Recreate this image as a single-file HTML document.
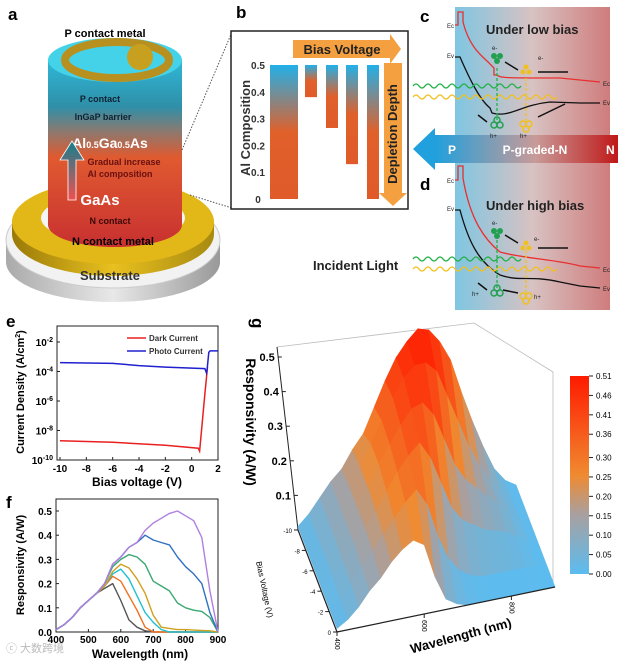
<!DOCTYPE html>
<html><head><meta charset="utf-8"><style>
html,body{margin:0;padding:0;background:#fff}
svg{display:block;font-family:"Liberation Sans",sans-serif}
.b{font-weight:bold}
</style></head><body>
<svg id="fig" width="620" height="662" viewBox="0 0 620 662" xmlns="http://www.w3.org/2000/svg">
<defs>
<linearGradient id="cyl" x1="0" y1="0" x2="0" y2="1">
<stop offset="0" stop-color="#2fb8d8"/><stop offset="0.25" stop-color="#2f8fa8"/><stop offset="0.38" stop-color="#8a7a70"/><stop offset="0.52" stop-color="#e05a30"/><stop offset="1" stop-color="#c83030"/></linearGradient>
<linearGradient id="gold" x1="0" y1="0" x2="1" y2="0"><stop offset="0" stop-color="#9a7a08"/><stop offset="0.5" stop-color="#e8c020"/><stop offset="1" stop-color="#a88a10"/></linearGradient>
<linearGradient id="sub" x1="0" y1="0" x2="1" y2="0"><stop offset="0" stop-color="#aaa"/><stop offset="0.5" stop-color="#e8e8e8"/><stop offset="1" stop-color="#999"/></linearGradient>
<linearGradient id="bar" x1="0" y1="0" x2="0" y2="1"><stop offset="0" stop-color="#22b0e8"/><stop offset="0.5" stop-color="#e0602a"/><stop offset="1" stop-color="#e05a2a"/></linearGradient>
<linearGradient id="band" x1="0" y1="0" x2="1" y2="0"><stop offset="0" stop-color="#7fc6e2"/><stop offset="0.5" stop-color="#d8c2c2"/><stop offset="1" stop-color="#cf7c7c"/></linearGradient>
<linearGradient id="pn" x1="0" y1="0" x2="1" y2="0"><stop offset="0" stop-color="#20a0dc"/><stop offset="0.55" stop-color="#c89a98"/><stop offset="1" stop-color="#c01818"/></linearGradient>
<linearGradient id="arr" x1="0" y1="1" x2="0" y2="0"><stop offset="0" stop-color="#f05050"/><stop offset="1" stop-color="#108090"/></linearGradient>
<linearGradient id="cbar" x1="0" y1="1" x2="0" y2="0"><stop offset="0" stop-color="#5bbcf0"/><stop offset="0.3" stop-color="#a8a0a0"/><stop offset="0.5" stop-color="#f08a30"/><stop offset="1" stop-color="#ff1a00"/></linearGradient>
</defs>

<!-- Panel a -->
<g>
<text x="8" y="20" class="b" font-size="17">a</text>
<path d="M6 240 L6 262 A107 40 0 0 0 220 262 L220 240 Z" fill="url(#sub)"/>
<ellipse cx="113" cy="240" rx="107" ry="48" fill="#f2f2f2" stroke="#ccc"/>
<path d="M12 222 L12 234 A101 42 0 0 0 214 234 L214 222 Z" fill="url(#gold)"/>
<ellipse cx="113" cy="222" rx="101" ry="42" fill="#e2b818"/>
<ellipse cx="113" cy="218" rx="72" ry="25" fill="#f4f4f4"/>
<path d="M48 60 L48 225 A67 22 0 0 0 182 225 L182 60 Z" fill="url(#cyl)"/>
<ellipse cx="115" cy="60" rx="67" ry="22" fill="#44d2e8"/>
<ellipse cx="117" cy="60" rx="52" ry="18" fill="none" stroke="#b89020" stroke-width="8"/>
<circle cx="140" cy="57" r="13" fill="#c8a020"/>
<text x="105" y="37" text-anchor="middle" class="b" font-size="11">P contact metal</text>
<text x="100" y="102" text-anchor="middle" class="b" font-size="9" fill="#123">P contact</text>
<text x="103" y="120" text-anchor="middle" class="b" font-size="9" fill="#123">InGaP barrier</text>
<text x="110" y="148" text-anchor="middle" class="b" font-size="14" fill="#fff">Al<tspan font-size="9">0.5</tspan>Ga<tspan font-size="9">0.5</tspan>As</text>
<path d="M68 200 L68 160 L60 160 L72 141 L84 160 L76 160 L76 200 Z" fill="url(#arr)" stroke="#fff" stroke-width="0.8"/>
<text x="124" y="165" text-anchor="middle" class="b" font-size="9" fill="#6a1010">Gradual increase</text>
<text x="120" y="177" text-anchor="middle" class="b" font-size="9" fill="#6a1010">Al composition</text>
<text x="100" y="205" text-anchor="middle" class="b" font-size="15" fill="#fff">GaAs</text>
<text x="110" y="224" text-anchor="middle" class="b" font-size="9" fill="#3a0a0a">N contact</text>
<text x="113" y="245" text-anchor="middle" class="b" font-size="11">N contact metal</text>
<text x="110" y="280" text-anchor="middle" class="b" font-size="13" fill="#333">Substrate</text>
<line x1="182" y1="150" x2="232" y2="32" stroke="#555" stroke-dasharray="1.5 1.5"/>
<line x1="190" y1="195" x2="232" y2="208" stroke="#555" stroke-dasharray="1.5 1.5"/>
</g>

<!-- Panel b -->
<g>
<text x="236" y="18" class="b" font-size="17">b</text>
<rect x="231" y="31" width="177" height="178" fill="#fff" stroke="#222" stroke-width="1.5"/>
<path d="M293 40 L390 40 L390 34 L401 49 L390 64 L390 58 L293 58 Z" fill="#f4a040"/>
<text x="342" y="54" text-anchor="middle" class="b" font-size="13" fill="#222">Bias Voltage</text>
<path d="M384 63 L402 63 L402 193 L407 193 L393 206 L379 193 L384 193 Z" fill="#f4a040"/>
<text transform="translate(397,134) rotate(-90)" text-anchor="middle" class="b" font-size="13" fill="#222">Depletion Depth</text>
<text transform="translate(250,128) rotate(-90)" text-anchor="middle" class="b" font-size="13" fill="#333">Al Composition</text>
<g id="bbars"></g>
</g>

<!-- Panels c and d -->
<g>
<rect x="455" y="7" width="155" height="303" fill="url(#band)"/>
<text x="420" y="22" class="b" font-size="17">c</text>
<text x="420" y="190" class="b" font-size="17">d</text>
<path d="M435 135 L448 135 L448 163 L435 163 L435 170 L413 149 L435 128 Z" fill="#20a0dc"/>
<path d="M435 135 L618 135 L618 163 L435 163 Z" fill="url(#pn)"/>
<text x="448" y="154" class="b" font-size="12" fill="#fff">P</text>
<text x="535" y="154" text-anchor="middle" class="b" font-size="12" fill="#fff">P-graded-N</text>
<text x="606" y="154" class="b" font-size="12" fill="#fff">N</text>
<text x="486" y="34" class="b" font-size="13" fill="#222">Under low bias</text>
<text x="486" y="210" class="b" font-size="13" fill="#222">Under high bias</text>
<text x="313" y="270" class="b" font-size="13" fill="#222">Incident Light</text>
<g font-size="6" fill="#222">
<text x="447" y="28">Ec</text><text x="447" y="58">Ev</text><text x="603" y="86">Ec</text><text x="603" y="105">Ev</text>
<text x="447" y="183">Ec</text><text x="447" y="211">Ev</text><text x="603" y="272">Ec</text><text x="603" y="291">Ev</text>
</g>
<g fill="none" stroke-width="1.3">
<path d="M455 25 L458 25 L458 12 L463 12 L463 22 C470 50 485 58 490 64 L494 68 L494 75 L497 75 C500 78 505 78 560 78 L580 80 L600 82" stroke="#e83030"/>
<path d="M455 57 L460 57 C470 80 480 100 490 108 L492 113 C510 118 520 105 550 102 L580 103 L600 103" stroke="#111"/>
<path d="M455 180 L458 180 L458 166 L463 166 L463 178 C470 220 485 240 500 252 C520 258 560 260 580 266 L600 268" stroke="#e83030"/>
<path d="M455 210 L460 210 C468 240 478 262 500 275 C520 282 530 275 560 282 L580 286 L600 288" stroke="#111"/>
</g>
<g fill="none" stroke-width="1.3">
<path d="M413 86 q3 -4 6 0 t6 0 t6 0 t6 0 t6 0 t6 0 t6 0 t6 0 t6 0 t6 0 t6 0 t6 0 t6 0 t6 0 t6 0 t6 0 t6 0 t6 0" stroke="#22b048"/>
<path d="M413 97 q3 -4 6 0 t6 0 t6 0 t6 0 t6 0 t6 0 t6 0 t6 0 t6 0 t6 0 t6 0 t6 0 t6 0 t6 0 t6 0 t6 0 t6 0 t6 0 t6 0 t6 0 t6 0 t6 0 t6 0 t6 0" stroke="#f0c020"/>
<path d="M413 259 q3 -4 6 0 t6 0 t6 0 t6 0 t6 0 t6 0 t6 0 t6 0 t6 0 t6 0 t6 0 t6 0 t6 0 t6 0 t6 0 t6 0 t6 0 t6 0" stroke="#22b048"/>
<path d="M413 269 q3 -4 6 0 t6 0 t6 0 t6 0 t6 0 t6 0 t6 0 t6 0 t6 0 t6 0 t6 0 t6 0 t6 0 t6 0 t6 0 t6 0 t6 0 t6 0 t6 0 t6 0 t6 0 t6 0 t6 0 t6 0" stroke="#f0c020"/>
<line x1="497" y1="68" x2="497" y2="120" stroke="#22b048" stroke-dasharray="3 2"/>
<line x1="526" y1="78" x2="526" y2="124" stroke="#f0c020" stroke-dasharray="3 2"/>
<line x1="497" y1="240" x2="497" y2="290" stroke="#22b048" stroke-dasharray="3 2"/>
<line x1="526" y1="250" x2="526" y2="294" stroke="#f0c020" stroke-dasharray="3 2"/>
</g>
<g stroke="#111" stroke-width="1.5">
<line x1="505" y1="62" x2="518" y2="70"/><line x1="538" y1="72" x2="568" y2="72"/><line x1="538" y1="117" x2="565" y2="104"/><line x1="487" y1="122" x2="478" y2="115"/>
<line x1="505" y1="235" x2="518" y2="243"/><line x1="538" y1="248" x2="568" y2="248"/><line x1="518" y1="293" x2="503" y2="290"/><line x1="487" y1="290" x2="478" y2="283"/>
</g>
<g>
<circle cx="494" cy="56" r="3" fill="#22a050"/><circle cx="500" cy="56" r="3" fill="#22a050"/><circle cx="497" cy="61" r="3" fill="#22a050"/>
<circle cx="523" cy="72" r="2.5" fill="#f0c020"/><circle cx="529" cy="72" r="2.5" fill="#f0c020"/><circle cx="526" cy="67" r="2.5" fill="#f0c020"/>
<circle cx="494" cy="125" r="3" fill="none" stroke="#22a050" stroke-width="1.5"/><circle cx="500" cy="125" r="3" fill="none" stroke="#22a050" stroke-width="1.5"/><circle cx="497" cy="120" r="3" fill="none" stroke="#22a050" stroke-width="1.5"/>
<circle cx="523" cy="124" r="3" fill="none" stroke="#f0c020" stroke-width="1.5"/><circle cx="529" cy="124" r="3" fill="none" stroke="#f0c020" stroke-width="1.5"/><circle cx="526" cy="129" r="3" fill="none" stroke="#f0c020" stroke-width="1.5"/>
<circle cx="494" cy="231" r="3" fill="#22a050"/><circle cx="500" cy="231" r="3" fill="#22a050"/><circle cx="497" cy="236" r="3" fill="#22a050"/>
<circle cx="523" cy="248" r="2.5" fill="#f0c020"/><circle cx="529" cy="248" r="2.5" fill="#f0c020"/><circle cx="526" cy="243" r="2.5" fill="#f0c020"/>
<circle cx="494" cy="293" r="3" fill="none" stroke="#22a050" stroke-width="1.5"/><circle cx="500" cy="293" r="3" fill="none" stroke="#22a050" stroke-width="1.5"/><circle cx="497" cy="288" r="3" fill="none" stroke="#22a050" stroke-width="1.5"/>
<circle cx="523" cy="296" r="3" fill="none" stroke="#f0c020" stroke-width="1.5"/><circle cx="529" cy="296" r="3" fill="none" stroke="#f0c020" stroke-width="1.5"/><circle cx="526" cy="301" r="3" fill="none" stroke="#f0c020" stroke-width="1.5"/>
</g>
<g font-size="6" fill="#222"><text x="492" y="50">e-</text><text x="538" y="60">e-</text><text x="490" y="138">h+</text><text x="520" y="138">h+</text><text x="492" y="225">e-</text><text x="534" y="241">e-</text><text x="472" y="296">h+</text><text x="534" y="299">h+</text></g>
</g>

<!-- Panel e -->
<g>
<text x="6" y="327" class="b" font-size="17">e</text>
<text transform="translate(24,392) rotate(-90)" text-anchor="middle" class="b" font-size="11">Current Density (A/cm<tspan font-size="7" dy="-4">2</tspan><tspan dy="4">)</tspan></text>
<text x="137" y="486" text-anchor="middle" class="b" font-size="12">Bias voltage (V)</text>
<g id="eplot"></g>
</g>

<!-- Panel f -->
<g>
<text x="6" y="508" class="b" font-size="17">f</text>
<text transform="translate(24,565) rotate(-90)" text-anchor="middle" class="b" font-size="11">Responsivity (A/W)</text>
<text x="140" y="658" text-anchor="middle" class="b" font-size="12">Wavelength (nm)</text>
<text x="6" y="652" font-size="11" fill="#bbb">ⓒ 大数跨境</text>
<g id="fplot"></g>
</g>

<!-- Panel g -->
<g>
<text transform="translate(252,318) rotate(90)" class="b" font-size="17">g</text>
<text transform="translate(246,422) rotate(90)" text-anchor="middle" class="b" font-size="14">Responsivity (A/W)</text>
<text transform="translate(262,590) rotate(78)" text-anchor="middle" font-size="8">Bias Voltage (V)</text>
<text transform="translate(462,640) rotate(-15)" text-anchor="middle" class="b" font-size="13">Wavelength (nm)</text>
<g id="gplot"></g>
<rect x="570" y="376" width="19" height="198" fill="url(#cbar)"/>
<g id="cbticks"></g>
</g>
</svg>
<script>
// ---------- Panel b data ----------
const bBarTops = [0.5,0.5,0.5,0.5,0.5];
const bBarBottoms = [0,0.38,0.265,0.13,0];
const bTicks = [0,0.1,0.2,0.3,0.4,0.5];
// ---------- Panel e data ----------
const eDarkV = [-10,-6,-2,0.5,0.6,0.62,0.8,1.0,1.2];
const eDarkLogJ = [-8.7,-8.8,-9.0,-9.2,-9.4,-9.2,-7.5,-5.5,-3.7];
const ePhotoV = [-10,-6,-4,-2,1.0,1.12,1.18,1.3,1.4,2];
const ePhotoLogJ = [-3.4,-3.45,-3.6,-3.7,-3.8,-4.1,-3.8,-2.7,-2.6,-2.6];
const eXTicks = [-10,-8,-6,-4,-2,0,2];
const eYTicks = [-10,-8,-6,-4,-2];
// ---------- Panel f data ----------
const wavelengths = [400,425,450,475,500,525,550,575,600,625,650,675,700,725,750,775,800,825,850,875,900];
const respGray   = [.01,.03,.06,.10,.13,.16,.18,.20,.13,.05,.02,.005,0,0,0,0,0,0,0,0,0];
const respOrange = [.01,.03,.06,.10,.13,.16,.19,.23,.21,.15,.09,.02,0,0,0,0,0,0,0,0,0];
const respCyan   = [.01,.03,.06,.10,.13,.16,.19,.24,.26,.22,.15,.08,.04,.01,0,0,0,0,0,0,0];
const respGold   = [.01,.03,.06,.10,.13,.16,.19,.25,.28,.265,.22,.16,.07,.02,.015,.01,.01,.008,.006,.005,0];
const respGreen  = [.01,.03,.06,.10,.13,.16,.20,.27,.30,.32,.31,.28,.21,.19,.17,.12,.10,.09,.085,.06,0];
const respBlue   = [.01,.03,.06,.10,.13,.16,.20,.28,.31,.35,.37,.40,.38,.37,.36,.31,.27,.24,.20,.08,0];
const respPurple = [.01,.03,.06,.10,.13,.16,.20,.28,.31,.35,.37,.42,.45,.47,.49,.50,.48,.46,.39,.17,0];
const fSeries = [respGray,respOrange,respCyan,respGold,respGreen,respBlue,respPurple];
const fColors = ['#555555','#f07020','#20c0d0','#d0a020','#3aa870','#3070c0','#b080e0'];
const fXTicks = [400,500,600,700,800,900];
const fYTicks = [0,0.1,0.2,0.3,0.4,0.5];
// ---------- Panel g data (surface rows, bias 0 .. -10) ----------
const gBiases = [0,-2,-4,-6,-8,-10];
const gRowB0  = [.01,.03,.06,.10,.13,.17,.20,.22,.20,.10,.03,.01,0,0,0,0,0,0,0,0,0];
const gRowB2  = [.01,.03,.07,.11,.15,.19,.23,.27,.30,.25,.15,.08,.04,.02,.01,.01,.01,.01,.01,.005,0];
const gRowB4  = [.01,.04,.07,.12,.16,.20,.25,.30,.34,.37,.32,.24,.16,.12,.10,.08,.07,.06,.04,.02,0];
const gRowB6  = [.01,.04,.08,.12,.16,.21,.27,.32,.37,.41,.42,.38,.30,.22,.17,.14,.11,.08,.05,.02,0];
const gRowB8  = [.01,.04,.08,.12,.16,.21,.27,.33,.39,.44,.47,.47,.44,.36,.28,.20,.14,.09,.05,.02,0];
const gRowB10 = [.01,.04,.08,.12,.15,.20,.24,.31,.38,.44,.48,.51,.50,.46,.40,.30,.21,.13,.06,.02,0];
const gZTicks = [0.1,0.2,0.3,0.4,0.5];
const gBiasTicks = [0,-2,-4,-6,-8,-10];
const gWaveTicks = [400,600,800];
const cbTicks = [0.00,0.05,0.10,0.15,0.20,0.25,0.30,0.36,0.41,0.46,0.51];

const NS='http://www.w3.org/2000/svg';
function mk(tag, attrs, parent){const e=document.createElementNS(NS,tag);for(const k in attrs)e.setAttribute(k,attrs[k]);parent.appendChild(e);return e;}

// Panel b
const bg=document.getElementById('bbars');
const bX0=[270,305,326,346,367], bW=[28,12,12,12,12];
const by=v=>199-v*268;
for(let i=0;i<bBarTops.length;i++){
  const top=by(bBarTops[i]), bot=by(bBarBottoms[i]);
  const r=mk('rect',{x:bX0[i],y:top,width:bW[i],height:bot-top,fill:'url(#bar)'},bg);
  
  
}
bTicks.forEach(t=>{const tx=mk('text',{x:258,y:by(t)+4,'text-anchor':'middle','font-size':10,'font-weight':'bold',fill:'#333'},bg);tx.textContent=t===0?'0':t.toFixed(1);
  
  });

// Panel e
const eg=document.getElementById('eplot');
const ex=v=>60+(v+10)*13.17, ey=l=>460-(l+10)*14.75;
const ef=mk('rect',{x:57,y:326,width:161,height:134,fill:'none',stroke:'#222','stroke-width':1},eg);


eXTicks.forEach(t=>{mk('line',{x1:ex(t),x2:ex(t),y1:460,y2:457,stroke:'#222'},eg);
  const tx=mk('text',{x:ex(t),y:472,'text-anchor':'middle','font-size':10,'font-weight':'bold'},eg);tx.textContent=t;
  
  });
eYTicks.forEach(t=>{mk('line',{x1:57,x2:60,y1:ey(t),y2:ey(t),stroke:'#222'},eg);
  const tx=mk('text',{x:53,y:ey(t)+4,'text-anchor':'end','font-size':10,'font-weight':'bold'},eg);
  tx.textContent='10';const s=mk('tspan',{'font-size':7,dy:-4},tx);s.textContent=t;
  
  });
const pd=(X,Y)=>X.map((v,i)=>(i?'L':'M')+ex(v).toFixed(1)+' '+ey(Y[i]).toFixed(1)).join(' ');
const dl=mk('path',{d:pd(eDarkV,eDarkLogJ),fill:'none',stroke:'#e82020','stroke-width':1.5},eg);


const pl=mk('path',{d:pd(ePhotoV,ePhotoLogJ),fill:'none',stroke:'#2020d0','stroke-width':1.5},eg);


[['Dark Current','#e82020',338],['Photo Current','#2020d0',351]].forEach(([n,c,y])=>{
  mk('line',{x1:127,x2:146,y1:y,y2:y,stroke:c,'stroke-width':1.5},eg);
  const t=mk('text',{x:149,y:y+3,'font-size':8,'font-weight':'bold',fill:'#333'},eg);t.textContent=n;
  
  });

// Panel f
const fg=document.getElementById('fplot');
const fx=w=>56+(w-400)*0.324, fy=r=>632-r*242;
const ff=mk('rect',{x:56,y:499,width:162,height:133,fill:'none',stroke:'#222'},fg);


fXTicks.forEach(t=>{mk('line',{x1:fx(t),x2:fx(t),y1:632,y2:629,stroke:'#222'},fg);
  const tx=mk('text',{x:fx(t),y:643,'text-anchor':'middle','font-size':10,'font-weight':'bold'},fg);tx.textContent=t;
  
  });
fYTicks.forEach(t=>{mk('line',{x1:56,x2:59,y1:fy(t),y2:fy(t),stroke:'#222'},fg);
  const tx=mk('text',{x:52,y:fy(t)+4,'text-anchor':'end','font-size':10,'font-weight':'bold'},fg);tx.textContent=t.toFixed(1);
  
  });
fSeries.forEach((s,k)=>{
  const d=wavelengths.map((w,i)=>(i?'L':'M')+fx(w).toFixed(1)+' '+fy(s[i]).toFixed(1)).join(' ');
  const p=mk('path',{d:d,fill:'none',stroke:fColors[k],'stroke-width':1.4,'stroke-linejoin':'round'},fg);
  
  
});

// Panel g
const gg=document.getElementById('gplot');
function proj(w,b,r){return [337+(w-400)/500*218+(-b/10)*(-39), 632+(w-400)/500*(-45)+(-b/10)*(-102)-r*346];}
function cmap(v){
  const stops=[[0,[91,188,240]],[0.15,[168,160,160]],[0.25,[240,138,48]],[0.51,[255,26,0]]];
  v=Math.max(0,Math.min(0.51,v));
  for(let i=1;i<stops.length;i++){if(v<=stops[i][0]){const a=stops[i-1],b=stops[i],t=(v-a[0])/(b[0]-a[0]);
    return 'rgb('+a[1].map((c,j)=>Math.round(c+(b[1][j]-c)*t)).join(',')+')';}}
  return 'rgb(255,26,0)';
}
const bl=[[277,347],[474,323],[553,372],[553,587]];
mk('path',{d:'M'+bl.map(p=>p.join(' ')).join(' L'),fill:'none',stroke:'#bbb','stroke-width':0.8},gg);
mk('line',{x1:277,y1:347,x2:298,y2:530,stroke:'#222','stroke-width':1},gg);
gZTicks.forEach(t=>{const y=530-t*346; const x=298-(t/0.52)*21;
  mk('line',{x1:x,x2:x+4,y1:y,y2:y,stroke:'#222'},gg);
  const tx=mk('text',{x:x-3,y:y+4,'text-anchor':'end','font-size':11,'font-weight':'bold'},gg);tx.textContent=t.toFixed(1);
  
  });
// surface, back to front
const gRows=[gRowB0,gRowB2,gRowB4,gRowB6,gRowB8,gRowB10];
for(let j=gRows.length-1;j>0;j--){
  const rA=gRows[j],rB=gRows[j-1],bA=gBiases[j],bB=gBiases[j-1];
  for(let i=0;i<wavelengths.length-1;i++){
    const p=[proj(wavelengths[i],bA,rA[i]),proj(wavelengths[i+1],bA,rA[i+1]),proj(wavelengths[i+1],bB,rB[i+1]),proj(wavelengths[i],bB,rB[i])];
    const v=(rA[i]+rA[i+1]+rB[i]+rB[i+1])/4;
    const q=mk('polygon',{points:p.map(a=>a[0].toFixed(1)+','+a[1].toFixed(1)).join(' '),fill:cmap(v),stroke:cmap(v),'stroke-width':0.6},gg);
    
    
  }
}
const o=proj(400,0,0),e9=proj(900,0,0),bk=proj(400,-10,0);
mk('line',{x1:o[0],y1:o[1],x2:e9[0],y2:e9[1],stroke:'#222','stroke-width':1.2},gg);
mk('line',{x1:o[0],y1:o[1],x2:bk[0],y2:bk[1],stroke:'#222','stroke-width':1.2},gg);
gBiasTicks.forEach(t=>{const p=proj(400,t,0);mk('line',{x1:p[0]-4,x2:p[0],y1:p[1],y2:p[1],stroke:'#222'},gg);
  const tx=mk('text',{x:p[0]-6,y:p[1]+3,'text-anchor':'end','font-size':6},gg);tx.textContent=t;
  
  });
gWaveTicks.forEach(t=>{const p=proj(t,0,0);mk('line',{x1:p[0],x2:p[0],y1:p[1],y2:p[1]+4,stroke:'#222'},gg);
  const tx=mk('text',{x:0,y:0,'font-size':7,transform:'translate('+(p[0]-2)+','+(p[1]+6)+') rotate(90)'},gg);tx.textContent=t;
  
  });
const cg=document.getElementById('cbticks');
cbTicks.forEach(t=>{const y=574-t/0.51*198;mk('line',{x1:589,x2:593,y1:y,y2:y,stroke:'#222'},cg);
  const tx=mk('text',{x:596,y:y+3,'font-size':8},cg);tx.textContent=t.toFixed(2);
  
  });
</script>
</body></html>
